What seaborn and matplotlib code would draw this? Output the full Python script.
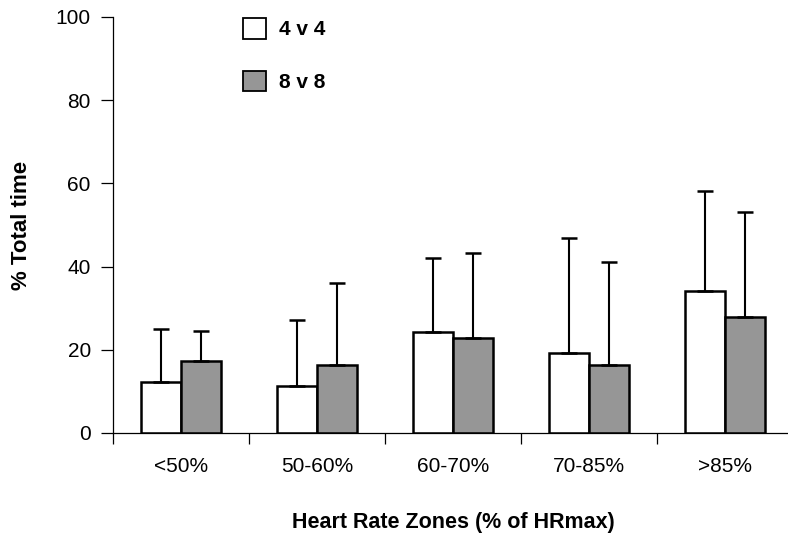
import matplotlib
matplotlib.use("Agg")
import matplotlib.pyplot as plt
import matplotlib.patches as mpatches
import seaborn as sns
import numpy as np
import pandas as pd

# Heart rate zones and group means / SD
zones = ["<50%", "50-60%", "60-70%", "70-85%", ">85%"]
groups = ["4 v 4", "8 v 8"]
mean_4v4 = [12.2, 11.4, 24.3, 19.2, 34.2]
sd_4v4 = [12.8, 15.7, 17.7, 27.7, 23.9]
mean_8v8 = [17.2, 16.3, 22.9, 16.3, 27.9]
sd_8v8 = [7.3, 19.8, 20.3, 24.9, 25.2]
yticks = [0, 20, 40, 60, 80, 100]

df = pd.DataFrame({
    "zone": zones * 2,
    "group": [groups[0]] * len(zones) + [groups[1]] * len(zones),
    "value": mean_4v4 + mean_8v8,
})
sds = [sd_4v4, sd_8v8]
colors = ["white", "#969696"]

sns.set_style("white")
plt.rcParams["font.family"] = ["Liberation Sans", "DejaVu Sans"]
plt.rcParams["text.color"] = "black"
plt.rcParams["axes.labelcolor"] = "black"
plt.rcParams["xtick.color"] = "black"
plt.rcParams["ytick.color"] = "black"

fig = plt.figure(figsize=(7.88, 5.33), dpi=100)
ax = fig.add_axes([113 / 788, 100 / 533, 680 / 788, 416 / 533])

sns.barplot(data=df, x="zone", y="value", hue="group", palette=colors,
            edgecolor="black", linewidth=1.8, width=0.59, gap=0,
            errorbar=None, legend=False, ax=ax)

# one-sided (upper) error bars on top of each bar
for container, sd in zip(ax.containers, sds):
    xs = [b.get_x() + b.get_width() / 2 for b in container]
    ys = [b.get_height() for b in container]
    ax.errorbar(xs, ys, yerr=[np.zeros(len(sd)), sd], fmt="none",
                ecolor="black", elinewidth=1.5, capsize=5.5, capthick=1.8,
                zorder=1)

ax.set_xlim(-0.5, len(zones) - 0.5)
ax.set_ylim(0, 100)
ax.set_yticks(yticks)
ax.tick_params(axis="y", direction="out", length=9, width=0.9, pad=7,
               labelsize=15, left=True)
ax.set_xticks(range(len(zones)))
ax.set_xticklabels(zones)
ax.tick_params(axis="x", which="major", length=0, pad=17, labelsize=15)
ax.set_xticks(np.arange(-0.5, len(zones)), minor=True)
ax.tick_params(axis="x", which="minor", direction="out", length=8, width=0.9,
               bottom=True)

for side in ["top", "right"]:
    ax.spines[side].set_visible(False)
for side in ["left", "bottom"]:
    ax.spines[side].set_color("black")
    ax.spines[side].set_linewidth(0.9)

ax.set_xlabel("Heart Rate Zones (% of HRmax)", fontsize=15.5, fontweight="bold",
              labelpad=26)
ax.set_ylabel("% Total time", fontsize=16, fontweight="bold", labelpad=17)

handles = [mpatches.Patch(facecolor=c, edgecolor="black", linewidth=1.3)
           for c in colors]
leg = ax.legend(handles, groups, loc="upper left",
                bbox_to_anchor=(243 / 788, 1 - 18 / 533),
                bbox_transform=fig.transFigure, borderpad=0, borderaxespad=0,
                frameon=False, handlelength=1.1, handleheight=1.15,
                handletextpad=0.62, labelspacing=1.5,
                prop={"size": 15, "weight": "bold"})

fig.savefig("out.png", dpi=100)
